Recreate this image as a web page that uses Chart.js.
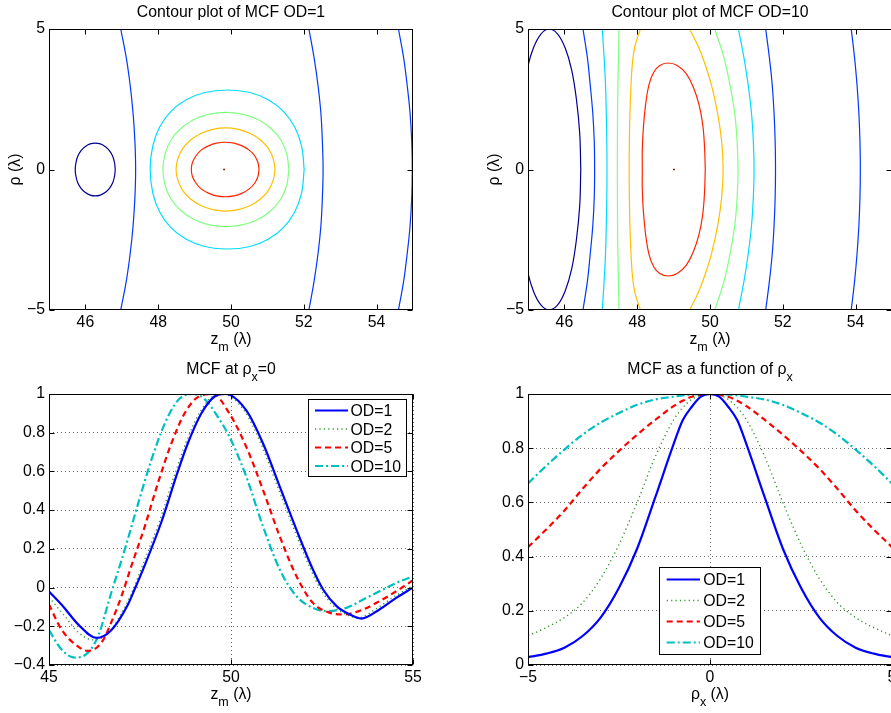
<!DOCTYPE html>
<html>
<head>
<meta charset="utf-8">
<script src="https://cdn.jsdelivr.net/npm/chart.js@4/dist/chart.umd.min.js"></script>
<style>
  html, body { margin: 0; padding: 0; background: #fff; overflow: hidden; width: 891px; height: 713px; }
  canvas { position: absolute; }
</style>
</head>
<body>
<canvas id="tl" width="445" height="356" style="left:0;top:0;width:445px;height:356px"></canvas>
<canvas id="tr" width="480" height="356" style="left:445px;top:0;width:480px;height:356px"></canvas>
<canvas id="bl" width="445" height="357" style="left:0;top:356px;width:445px;height:357px"></canvas>
<canvas id="br" width="480" height="357" style="left:445px;top:356px;width:480px;height:357px"></canvas>
<script>
// tick labels
const zTicksContour = [46, 48, 50, 52, 54];
const rhoTicksContour = [-5, 0, 5];
const zTicksLine = [45, 50, 55];
const mcfTicksZ = [-0.4, -0.2, 0, 0.2, 0.4, 0.6, 0.8, 1];
const rhoXTicks = [-5, 0, 5];
const mcfTicksRho = [0, 0.2, 0.4, 0.6, 0.8, 1];
const odLabels = ["OD=1", "OD=2", "OD=5", "OD=10"];

// ---- contour lines, OD=1 (z, rho) ----
const c1NavyZ   = [46.82, 46.80, 46.75, 46.66, 46.55, 46.41, 46.27, 46.13, 45.99, 45.88, 45.79, 45.74, 45.72, 45.74, 45.79, 45.88, 45.99, 46.13, 46.27, 46.41, 46.55, 46.66, 46.75, 46.80, 46.82];
const c1NavyRho = [0, 0.24, 0.47, 0.67, 0.81, 0.91, 0.94, 0.91, 0.81, 0.67, 0.47, 0.24, 0, -0.24, -0.47, -0.67, -0.81, -0.91, -0.94, -0.91, -0.81, -0.67, -0.47, -0.24, 0];
const c1CyanZ   = [52.01, 51.94, 51.75, 51.44, 51.02, 50.52, 49.9, 49.28, 48.77, 48.35, 48.04, 47.85, 47.78, 47.85, 48.04, 48.35, 48.77, 49.28, 49.9, 50.52, 51.02, 51.44, 51.75, 51.94, 52.01];
const c1CyanRho = [0, 0.83, 1.51, 2.07, 2.48, 2.74, 2.83, 2.74, 2.48, 2.07, 1.51, 0.83, 0, -0.83, -1.51, -2.07, -2.48, -2.74, -2.83, -2.74, -2.48, -2.07, -1.51, -0.83, 0];
const c1GreenZ   = [51.59, 51.53, 51.37, 51.1, 50.75, 50.34, 49.86, 49.38, 48.97, 48.62, 48.35, 48.19, 48.13, 48.19, 48.35, 48.62, 48.97, 49.38, 49.86, 50.34, 50.75, 51.1, 51.37, 51.53, 51.59];
const c1GreenRho = [0, 0.56, 1.05, 1.46, 1.77, 1.96, 2.03, 1.96, 1.77, 1.46, 1.05, 0.56, 0, -0.56, -1.05, -1.46, -1.77, -1.96, -2.03, -1.96, -1.77, -1.46, -1.05, -0.56, 0];
const c1YellowZ   = [51.21, 51.16, 51.03, 50.81, 50.53, 50.2, 49.85, 49.5, 49.17, 48.89, 48.67, 48.54, 48.49, 48.54, 48.67, 48.89, 49.17, 49.5, 49.85, 50.2, 50.53, 50.81, 51.03, 51.16, 51.21];
const c1YellowRho = [0, 0.38, 0.74, 1.05, 1.28, 1.43, 1.48, 1.43, 1.28, 1.05, 0.74, 0.38, 0, -0.38, -0.74, -1.05, -1.28, -1.43, -1.48, -1.43, -1.28, -1.05, -0.74, -0.38, 0];
const c1RedZ   = [50.77, 50.74, 50.65, 50.5, 50.31, 50.08, 49.84, 49.6, 49.38, 49.18, 49.04, 48.94, 48.91, 48.94, 49.04, 49.18, 49.38, 49.6, 49.84, 50.08, 50.31, 50.5, 50.65, 50.74, 50.77];
const c1RedRho = [0, 0.25, 0.49, 0.69, 0.84, 0.94, 0.97, 0.94, 0.84, 0.69, 0.49, 0.25, 0, -0.25, -0.49, -0.69, -0.84, -0.94, -0.97, -0.94, -0.84, -0.69, -0.49, -0.25, 0];
const arcRho = [-5, -4, -3, -2, -1, 0, 1, 2, 3, 4, 5];
const c1BlueAZ = [46.97, 47.12, 47.23, 47.31, 47.36, 47.38, 47.36, 47.31, 47.23, 47.12, 46.97];
const c1BlueBZ = [52.14, 52.28, 52.39, 52.47, 52.51, 52.53, 52.51, 52.47, 52.39, 52.28, 52.14];
const c1BlueCZ = [54.6, 54.74, 54.84, 54.92, 54.965, 54.98, 54.965, 54.92, 54.84, 54.74, 54.6];
const c1PeakZ = [49.81], c1PeakRho = [0];

// ---- contour lines, OD=10 ----
const c10NavyZ   = [46.45, 46.42, 46.33, 46.2, 46.02, 45.81, 45.58, 45.36, 45.15, 44.97, 44.83, 44.74, 44.71, 44.74, 44.83, 44.97, 45.15, 45.36, 45.58, 45.81, 46.02, 46.2, 46.33, 46.42, 46.45];
const c10NavyRho = [0, 1.3, 2.5, 3.54, 4.33, 4.83, 5.0, 4.83, 4.33, 3.54, 2.5, 1.3, 0, -1.3, -2.5, -3.54, -4.33, -4.83, -5.0, -4.83, -4.33, -3.54, -2.5, -1.3, 0];
const c10BlueLZ   = [46.51, 46.63, 46.71, 46.78, 46.82, 46.83, 46.82, 46.78, 46.71, 46.63, 46.51];
const c10CyanLZ   = [47.04, 47.09, 47.13, 47.15, 47.165, 47.17, 47.165, 47.15, 47.13, 47.09, 47.04];
const c10GreenLZ  = [47.5, 47.485, 47.47, 47.46, 47.457, 47.455, 47.457, 47.46, 47.47, 47.485, 47.5];
const c10GreenRZ  = [50.13, 50.38, 50.55, 50.68, 50.745, 50.77, 50.745, 50.68, 50.55, 50.38, 50.13];
const c10CyanRZ   = [50.78, 50.93, 51.05, 51.14, 51.19, 51.21, 51.19, 51.14, 51.05, 50.93, 50.78];
const c10BlueR1Z  = [51.53, 51.63, 51.71, 51.76, 51.79, 51.8, 51.79, 51.76, 51.71, 51.63, 51.53];
const c10BlueR2Z  = [53.88, 53.97, 54.04, 54.09, 54.12, 54.13, 54.12, 54.09, 54.04, 53.97, 53.88];
const yellowRho   = [-5, -4.4, -3.8, -3, -2, -1, 0, 1, 2, 3, 3.8, 4.4, 5];
const c10YellowLZ = [48.09, 47.94, 47.87, 47.83, 47.8, 47.785, 47.78, 47.785, 47.8, 47.83, 47.87, 47.94, 48.09];
const c10YellowRZ = [49.44, 49.67, 49.85, 50.04, 50.21, 50.32, 50.36, 50.32, 50.21, 50.04, 49.85, 49.67, 49.44];
const c10RedZ   = [49.87, 49.85, 49.8, 49.7, 49.55, 49.35, 49.1, 48.85, 48.62, 48.45, 48.32, 48.23, 48.17, 48.14, 48.14, 48.14, 48.17, 48.23, 48.32, 48.45, 48.62, 48.85, 49.1, 49.35, 49.55, 49.7, 49.8, 49.85, 49.87];
const c10RedRho = [0, 0.8, 1.6, 2.3, 2.9, 3.4, 3.7, 3.79, 3.7, 3.45, 3.0, 2.3, 1.5, 0.7, 0, -0.7, -1.5, -2.3, -3.0, -3.45, -3.7, -3.79, -3.7, -3.4, -2.9, -2.3, -1.6, -0.8, 0];
const c10PeakZ = [49.01], c10PeakRho = [0];

// ---- MCF at rho_x = 0 ----
const zOD1   = [45, 45.4, 45.8, 46.3, 46.71, 47.17, 47.35, 47.63, 48.09, 48.54, 48.82, 49.18, 49.55, 49.85, 50.42, 50.88, 51.34, 51.8, 52.25, 52.53, 52.9, 53.26, 53.58, 54.08, 54.54, 55];
const mcfOD1 = [-0.02, -0.1, -0.19, -0.26, -0.22, -0.087, -0.01, 0.115, 0.34, 0.6, 0.748, 0.898, 0.987, 1, 0.915, 0.744, 0.521, 0.298, 0.093, -0.01, -0.096, -0.139, -0.16, -0.113, -0.053, 0];
const zOD2   = [45, 45.4, 45.8, 46.2, 46.6, 47.1, 47.3, 47.57, 48.03, 48.48, 48.76, 49.12, 49.49, 49.78, 50.36, 50.82, 51.28, 51.74, 52.19, 52.47, 52.84, 53.2, 53.5, 54, 54.5, 55];
const mcfOD2 = [-0.05, -0.14, -0.23, -0.27, -0.24, -0.095, -0.015, 0.115, 0.34, 0.6, 0.748, 0.898, 0.987, 1, 0.915, 0.744, 0.521, 0.298, 0.093, -0.01, -0.1, -0.142, -0.156, -0.108, -0.045, 0.01];
const zOD5   = [45, 45.34, 45.8, 46.07, 46.44, 46.71, 46.99, 47.26, 47.63, 47.99, 48.36, 48.72, 49.09, 49.5, 49.96, 50.42, 50.88, 51.34, 51.8, 52.25, 52.71, 53.08, 53.63, 54.08, 54.54, 55];
const mcfOD5 = [-0.087, -0.216, -0.305, -0.327, -0.285, -0.18, -0.045, 0.11, 0.315, 0.538, 0.744, 0.898, 0.984, 1, 0.898, 0.727, 0.504, 0.264, 0.058, -0.079, -0.13, -0.139, -0.113, -0.07, -0.019, 0.038];
const zOD10   = [45, 45.34, 45.71, 46.07, 46.35, 46.71, 47.08, 47.45, 47.81, 48.18, 48.54, 48.95, 49.27, 49.64, 49.96, 50.42, 50.88, 51.34, 51.8, 52.25, 52.62, 53.17, 53.63, 54.08, 54.54, 55];
const mcfOD10 = [-0.22, -0.319, -0.362, -0.336, -0.25, -0.027, 0.195, 0.435, 0.658, 0.847, 0.967, 1, 0.975, 0.881, 0.778, 0.573, 0.315, 0.093, -0.045, -0.105, -0.122, -0.105, -0.062, -0.019, 0.024, 0.058];

// ---- MCF as a function of rho_x ----
const rhoX = [-5, -4.5, -4, -3.5, -3, -2.5, -2, -1.5, -1, -0.75, -0.5, -0.25, 0, 0.25, 0.5, 0.75, 1, 1.5, 2, 2.5, 3, 3.5, 4, 4.5, 5];
const rhoOD1  = [0.029, 0.042, 0.064, 0.107, 0.176, 0.285, 0.43, 0.62, 0.815, 0.903, 0.953, 0.99, 1, 0.99, 0.953, 0.903, 0.815, 0.62, 0.43, 0.285, 0.176, 0.107, 0.064, 0.042, 0.029];
const rhoOD2  = [0.108, 0.138, 0.175, 0.23, 0.32, 0.445, 0.6, 0.77, 0.905, 0.95, 0.98, 0.996, 1, 0.996, 0.98, 0.95, 0.905, 0.77, 0.6, 0.445, 0.32, 0.23, 0.175, 0.138, 0.108];
const rhoOD5  = [0.435, 0.5, 0.57, 0.65, 0.725, 0.79, 0.85, 0.905, 0.955, 0.975, 0.99, 0.997, 1, 0.997, 0.99, 0.975, 0.955, 0.905, 0.85, 0.79, 0.725, 0.65, 0.57, 0.5, 0.435];
const rhoOD10 = [0.67, 0.735, 0.795, 0.85, 0.895, 0.93, 0.96, 0.98, 0.99, 0.995, 0.998, 1, 1, 1, 0.998, 0.995, 0.99, 0.98, 0.96, 0.93, 0.895, 0.85, 0.795, 0.735, 0.67];

const FONT = "'Liberation Sans', Arial, Helvetica, sans-serif";
const FS = 15.8;
Chart.defaults.font.family = FONT;
Chart.defaults.font.size = FS;
Chart.defaults.color = "#000";
Chart.defaults.animation = false;

const pts = (xs, ys) => xs.map((x, i) => ({ x: x, y: ys[i] }));
const fmt = v => String(v).replace("-", "\u2212");

const JET = { navy: "#00008f", blue: "#0038ff", cyan: "#00dcff", green: "#80ff80", yellow: "#ffbf00", red: "#ff2400", dark: "#800000" };

function contour(zs, rhos, color) {
  return { data: pts(zs, rhos), borderColor: color, borderWidth: 1.2, showLine: true, pointRadius: 0, tension: 0.4, fill: false };
}
function peak(zs, rhos) {
  return { data: pts(zs, rhos), showLine: false, pointRadius: 1.2, pointStyle: "rect", backgroundColor: JET.dark, borderWidth: 0 };
}

const lineStyles = [
  { borderColor: "#0000ff", borderWidth: 2.2, borderDash: [] },
  { borderColor: "#2f962f", borderWidth: 1.4, borderDash: [1.2, 3.2] },
  { borderColor: "#ff0000", borderWidth: 2.2, borderDash: [6, 4] },
  { borderColor: "#00bfbf", borderWidth: 2.2, borderDash: [8, 3, 2, 3] }
];
function curve(xs, ys, i) {
  return Object.assign({ label: odLabels[i], data: pts(xs, ys), pointRadius: 0, fill: false, cubicInterpolationMode: "monotone" }, lineStyles[i]);
}

function makeScales(xMin, xMax, xTicks, yMin, yMax, yTicks, L, B, grid) {
  const base = (min, max, t) => ({
    type: "linear", min: min, max: max,
    afterBuildTicks: s => { s.ticks = t.map(v => ({ value: v })); },
    ticks: { autoSkip: false, maxRotation: 0, callback: v => fmt(v) },
    grid: { display: grid, drawTicks: false, color: "rgba(0,0,0,0.6)", lineWidth: 1 },
    border: { display: false, dash: [1, 3] }
  });
  const x = base(xMin, xMax, xTicks);
  x.ticks.padding = 3;
  x.afterFit = s => { s.height = B; };
  const y = base(yMin, yMax, yTicks);
  y.ticks.padding = 4;
  y.afterFit = s => { s.width = L; };
  return { x: x, y: y };
}

// text with subscripts: parts = [[text, isSub]]
function drawRich(ctx, parts, x, y) {
  const norm = FS + "px " + FONT, sub = "12.5px " + FONT;
  let w = 0;
  parts.forEach(p => { ctx.font = p[1] ? sub : norm; w += ctx.measureText(p[0]).width; });
  let cx = x - w / 2;
  ctx.textAlign = "left";
  ctx.textBaseline = "alphabetic";
  parts.forEach(p => {
    ctx.font = p[1] ? sub : norm;
    ctx.fillText(p[0], cx, y + (p[1] ? 6.5 : 0));
    cx += ctx.measureText(p[0]).width;
  });
}

function decor(cfg) {
  return {
    id: "decor",
    afterDraw(chart) {
      const ctx = chart.ctx, a = chart.chartArea, sx = chart.scales.x, sy = chart.scales.y;
      const l = Math.round(a.left) + 0.5, r = Math.round(a.right) - 0.5;
      const t = Math.round(a.top) + 0.5, b = Math.round(a.bottom) - 0.5;
      ctx.save();
      ctx.strokeStyle = "#000";
      ctx.lineWidth = 1;
      ctx.setLineDash([]);
      ctx.beginPath();
      sx.ticks.forEach(tk => {
        const p = Math.round(sx.getPixelForValue(tk.value)) + 0.5;
        ctx.moveTo(p, b); ctx.lineTo(p, b - 5);
        ctx.moveTo(p, t); ctx.lineTo(p, t + 5);
      });
      sy.ticks.forEach(tk => {
        const p = Math.round(sy.getPixelForValue(tk.value)) + 0.5;
        ctx.moveTo(l, p); ctx.lineTo(l + 5, p);
        ctx.moveTo(r, p); ctx.lineTo(r - 5, p);
      });
      ctx.stroke();
      ctx.strokeRect(l, t, r - l, b - t);

      ctx.fillStyle = "#000";
      const mid = (a.left + a.right) / 2;
      drawRich(ctx, cfg.title, mid, a.top - cfg.titleGap);
      drawRich(ctx, cfg.xlabel, mid, a.bottom + 34);
      if (cfg.ylabel) {
        ctx.save();
        ctx.translate(a.left - 29, (a.top + a.bottom) / 2);
        ctx.rotate(-Math.PI / 2);
        drawRich(ctx, cfg.ylabel, 0, 0);
        ctx.restore();
      }

      const lg = cfg.legend;
      if (lg) {
        ctx.fillStyle = "#fff";
        ctx.fillRect(lg.x, lg.y, lg.w, lg.h);
        ctx.strokeStyle = "#000";
        ctx.lineWidth = 1;
        ctx.strokeRect(lg.x + 0.5, lg.y + 0.5, lg.w, lg.h);
        chart.data.datasets.forEach((ds, i) => {
          const yy = lg.y + lg.rows[i];
          ctx.strokeStyle = ds.borderColor;
          ctx.lineWidth = ds.borderWidth;
          ctx.setLineDash(ds.borderDash);
          ctx.beginPath();
          ctx.moveTo(lg.x + lg.s0, yy);
          ctx.lineTo(lg.x + lg.s1, yy);
          ctx.stroke();
          ctx.setLineDash([]);
          ctx.fillStyle = "#000";
          ctx.font = FS + "px " + FONT;
          ctx.textAlign = "left";
          ctx.textBaseline = "alphabetic";
          ctx.fillText(ds.label, lg.x + lg.tx, yy + 5.6);
        });
      }
      ctx.restore();
    }
  };
}

const baseOptions = (scales, pad) => ({
  responsive: false,
  animation: false,
  layout: { padding: pad, autoPadding: false },
  elements: { line: { capBezierPoints: false } },
  plugins: { legend: { display: false }, title: { display: false }, tooltip: { enabled: false } },
  scales: scales
});

// top left: contour OD=1
new Chart(document.getElementById("tl"), {
  type: "scatter",
  data: {
    datasets: [
      contour(c1NavyZ, c1NavyRho, JET.navy),
      contour(c1BlueAZ, arcRho, JET.blue),
      contour(c1BlueBZ, arcRho, JET.blue),
      contour(c1BlueCZ, arcRho, JET.blue),
      contour(c1CyanZ, c1CyanRho, JET.cyan),
      contour(c1GreenZ, c1GreenRho, JET.green),
      contour(c1YellowZ, c1YellowRho, JET.yellow),
      contour(c1RedZ, c1RedRho, JET.red),
      peak(c1PeakZ, c1PeakRho)
    ]
  },
  options: baseOptions(makeScales(45, 55, zTicksContour, -5, 5, rhoTicksContour, 49, 46, false), { top: 29, right: 32, left: 0, bottom: 0 }),
  plugins: [decor({ title: [["Contour plot of MCF OD=1", false]], titleGap: 11.7, xlabel: [["z", false], ["m", true], [" (\u03bb)", false]], ylabel: [["\u03c1 (\u03bb)", false]] })]
});

// top right: contour OD=10
new Chart(document.getElementById("tr"), {
  type: "scatter",
  data: {
    datasets: [
      contour(c10NavyZ, c10NavyRho, JET.navy),
      contour(c10BlueLZ, arcRho, JET.blue),
      contour(c10CyanLZ, arcRho, JET.cyan),
      contour(c10GreenLZ, arcRho, JET.green),
      contour(c10YellowLZ, yellowRho, JET.yellow),
      contour(c10RedZ, c10RedRho, JET.red),
      contour(c10YellowRZ, yellowRho, JET.yellow),
      contour(c10GreenRZ, arcRho, JET.green),
      contour(c10CyanRZ, arcRho, JET.cyan),
      contour(c10BlueR1Z, arcRho, JET.blue),
      contour(c10BlueR2Z, arcRho, JET.blue),
      peak(c10PeakZ, c10PeakRho)
    ]
  },
  options: baseOptions(makeScales(45, 55, zTicksContour, -5, 5, rhoTicksContour, 83, 46, false), { top: 29, right: 33, left: 0, bottom: 0 }),
  plugins: [decor({ title: [["Contour plot of MCF OD=10", false]], titleGap: 11.7, xlabel: [["z", false], ["m", true], [" (\u03bb)", false]], ylabel: [["\u03c1 (\u03bb)", false]] })]
});

// bottom left: MCF at rho_x = 0
new Chart(document.getElementById("bl"), {
  type: "line",
  data: {
    datasets: [
      curve(zOD1, mcfOD1, 0),
      curve(zOD2, mcfOD2, 1),
      curve(zOD5, mcfOD5, 2),
      curve(zOD10, mcfOD10, 3)
    ]
  },
  options: baseOptions(makeScales(45, 55, zTicksLine, -0.4, 1, mcfTicksZ, 49, 48, true), { top: 38, right: 32, left: 0, bottom: 0 }),
  plugins: [decor({
    title: [["MCF at \u03c1", false], ["x", true], ["=0", false]], titleGap: 19.7,
    xlabel: [["z", false], ["m", true], [" (\u03bb)", false]],
    legend: { x: 308, y: 43, w: 98, h: 77, rows: [11.5, 30, 48.5, 67], s0: 7, s1: 40, tx: 42.5 }
  })]
});

// bottom right: MCF as a function of rho_x
new Chart(document.getElementById("br"), {
  type: "line",
  data: {
    datasets: [
      curve(rhoX, rhoOD1, 0),
      curve(rhoX, rhoOD2, 1),
      curve(rhoX, rhoOD5, 2),
      curve(rhoX, rhoOD10, 3)
    ]
  },
  options: baseOptions(makeScales(-5, 5, rhoXTicks, 0, 1, mcfTicksRho, 83, 48, true), { top: 38, right: 33, left: 0, bottom: 0 }),
  plugins: [decor({
    title: [["MCF as a function of \u03c1", false], ["x", true]], titleGap: 19.7,
    xlabel: [["\u03c1", false], ["x", true], [" (\u03bb)", false]],
    legend: { x: 214, y: 211, w: 101, h: 87, rows: [12.5, 33.5, 54.5, 75.5], s0: 7.7, s1: 41, tx: 44.3 }
  })]
});
</script>
</body>
</html>
